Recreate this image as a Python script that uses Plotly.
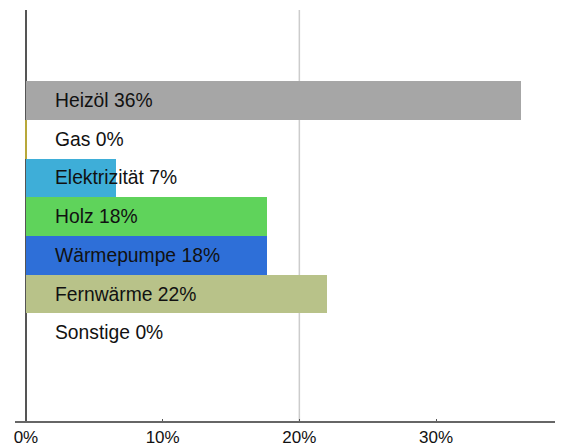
import plotly.graph_objects as go

categories = ["Heizöl", "Gas", "Elektrizität", "Holz", "Wärmepumpe", "Fernwärme", "Sonstige"]
values = [36.2, 0.1, 6.6, 17.6, 17.6, 22.0, 0.1]
colors = ["#a6a6a6", "#b8a83a", "#3eaed8", "#5fd35b", "#2e6fd8", "#b8c289", "#555555"]
tick_vals = [0, 10, 20, 30]
tick_text = ["0%", "10%", "20%", "30%"]
grid_vals = [20]

fig = go.Figure()
fig.add_trace(go.Bar(
    x=values, y=categories, orientation="h",
    marker=dict(color=colors, line=dict(width=0)),
    width=1.0, hoverinfo="skip", showlegend=False,
))

for c, v in zip(categories, values):
    fig.add_annotation(
        x=0, y=c, xref="x", yref="y", xanchor="left", yanchor="middle",
        xshift=27, text=f"{c} {round(v):.0f}%", showarrow=False,
        font=dict(family="Liberation Sans, Arial, sans-serif", size=19.3, color="#111111"),
    )

for g in grid_vals:
    fig.add_shape(type="line", xref="x", yref="paper", x0=g, x1=g, y0=0, y1=1,
                  line=dict(color="#cccccc", width=1.5), layer="below")

fig.update_layout(
    width=563, height=447,
    margin=dict(l=15, r=8, t=10, b=26),
    paper_bgcolor="white", plot_bgcolor="white",
    bargap=0,
    font=dict(family="Liberation Sans, Arial, sans-serif", size=17, color="#111111"),
    xaxis=dict(
        range=[-0.8, 38.7], tickvals=tick_vals, ticktext=tick_text,
        showgrid=False, zeroline=True, zerolinecolor="#555555", zerolinewidth=2,
        showline=True, linecolor="#666666", linewidth=1.5,
        ticks="inside", ticklen=2, tickcolor="#555555",
        fixedrange=True, automargin=False,
    ),
    yaxis=dict(
        categoryorder="array", categoryarray=categories,
        range=[8.28, -2.34], showticklabels=False, showgrid=False,
        zeroline=False, showline=False, ticks="", fixedrange=True,
    ),
)

fig.write_html("out.html", config={"displayModeBar": False},
               post_script="document.body.style.margin='0';document.body.style.padding='0';")
